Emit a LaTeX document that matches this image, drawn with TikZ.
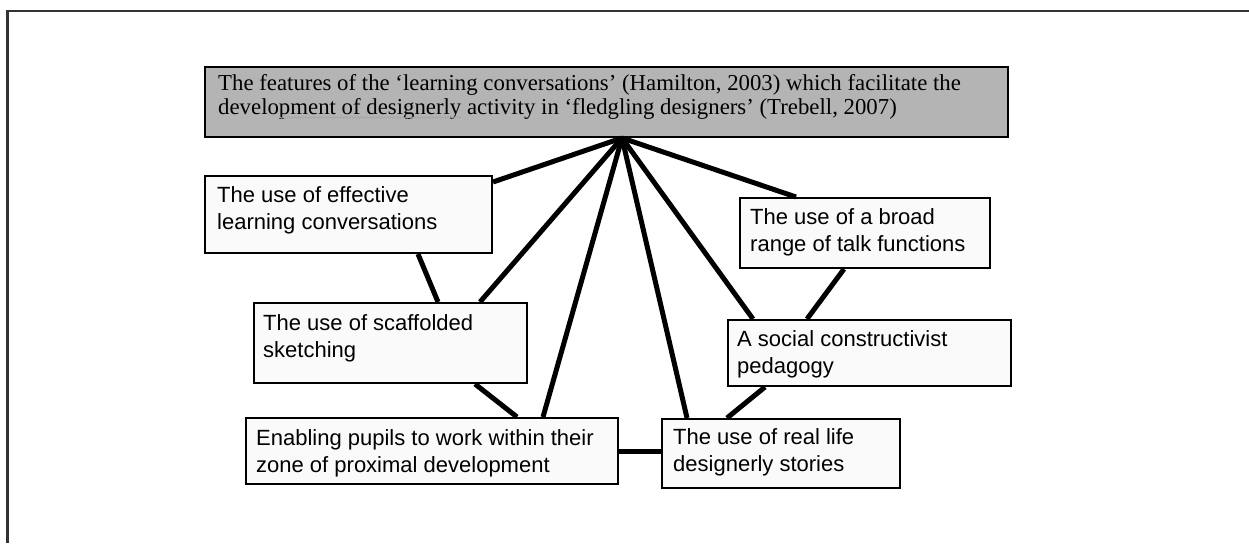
\documentclass[tikz,border=0pt]{standalone}
\usepackage{fontspec}
\setmainfont{Liberation Serif}
\setsansfont{Liberation Sans}
\usetikzlibrary{calc,decorations.pathmorphing}
\tikzset{
  boxshape/.style={draw=black, line width=2pt, fill=boxfill, rectangle, inner sep=0pt, anchor=north west},
  topshape/.style={draw=black, line width=2pt, fill=topfill, rectangle, inner sep=0pt, anchor=north west},
  sanstext/.style={inner sep=0pt, anchor=north west, align=left, font=\sffamily\fontsize{22}{27}\selectfont},
  seriftext/.style={inner sep=0pt, anchor=north west, align=left, font=\rmfamily\fontsize{22.8}{24.5}\selectfont},
  link/.style={line width=5pt, black},
  frameline/.style={line width=2.5pt, draw=framegray}
}
\definecolor{boxfill}{HTML}{FAFAFA}
\definecolor{topfill}{HTML}{B4B4B4}
\definecolor{framegray}{HTML}{333333}
\begin{document}
\begin{tikzpicture}[x=1pt,y=-1pt]
\useasboundingbox (0,0) rectangle (1249,543);
% frame
\coordinate (fa) at (7.5,543);
\coordinate (fb) at (7.5,11);
\coordinate (fc) at (1249,11);
\draw[frameline] (fa) -- (fb) -- (fc);
% boxes
\node[topshape, minimum width=803pt, minimum height=70pt] (T) at (204,66) {};
\node[boxshape, minimum width=287pt, minimum height=77pt] (A) at (204,175) {};
\node[boxshape, minimum width=273pt, minimum height=80pt] (B) at (253,302) {};
\node[boxshape, minimum width=372pt, minimum height=66pt] (C) at (245,417) {};
\node[boxshape, minimum width=238pt, minimum height=69pt] (D) at (661,418) {};
\node[boxshape, minimum width=283pt, minimum height=66pt] (E) at (727,319) {};
\node[boxshape, minimum width=250pt, minimum height=70pt] (F) at (739,197) {};
% connectors
\coordinate (hub) at ($(T.south west)+(418,0)$);
\draw[link] (hub) -- ($(A.north east)+(0,7)$);
\draw[link] (hub) -- ($(B.north west)+(227,0)$);
\draw[link] (hub) -- ($(C.north west)+(298,0)$);
\draw[link] (hub) -- ($(D.north west)+(26,0)$);
\draw[link] (hub) -- ($(E.north west)+(26,0)$);
\draw[link] (hub) -- ($(F.north west)+(57,0)$);
\draw[link] ($(A.south west)+(214,0)$) -- ($(B.north west)+(185,0)$);
\draw[link] ($(B.south west)+(222,0)$) -- ($(C.north west)+(272,0)$);
\draw[link] (C.east) -- (C.east -| D.west);
\draw[link] ($(E.south west)+(38,0)$) -- ($(D.north west)+(66,0)$);
\draw[link] ($(F.south west)+(105,0)$) -- ($(E.north west)+(80,0)$);
% texts
\node[seriftext] (Tt) at (218,74) {The features of the ‘learning conversations’ (Hamilton, 2003) which facilitate the\\development of designerly activity in ‘fledgling designers’ (Trebell, 2007)};
\draw[gray!70, line width=0.7pt, decorate, decoration={snake, amplitude=0.7pt, segment length=3pt}] (279,117.5) -- (461,117.5);
\node[sanstext] (At) at (217,186) {The use of effective\\learning conversations};
\node[sanstext] (Bt) at (263,314) {The use of scaffolded\\sketching};
\node[sanstext] (Ct) at (256,429) {Enabling pupils to work within their\\zone of proximal development};
\node[sanstext] (Dt) at (673,428) {The use of real life\\designerly stories};
\node[sanstext] (Et) at (737,330) {A social constructivist\\pedagogy};
\node[sanstext] (Ft) at (750,208) {The use of a broad\\range of talk functions};
\end{tikzpicture}
\end{document}
